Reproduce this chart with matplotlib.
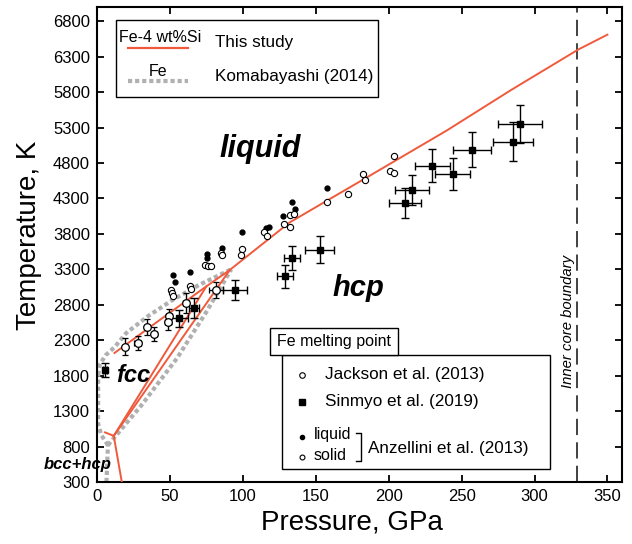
import numpy as np
import matplotlib
matplotlib.use("Agg")
import matplotlib.pyplot as plt
from matplotlib.lines import Line2D
from matplotlib.patches import Rectangle

plt.rcParams['font.family'] = ['Liberation Sans', 'DejaVu Sans']

# --- phase boundaries, this study (Fe-4 wt%Si) ---
melt_P = [12, 40, 75, 91, 132, 187, 240, 284, 330, 350]
melt_T = [2120, 2540, 3060, 3290, 3960, 4620, 5260, 5830, 6400, 6610]
fcc_hcp_lo_P = [11.5, 75]
fcc_hcp_lo_T = [950, 3060]
fcc_hcp_hi_P = [11.5, 91]
fcc_hcp_hi_T = [950, 3290]
bcc_hcp_P = [11.5, 17]
bcc_hcp_T = [950, 300]
bcc_fcc_P = [5.5, 11.5]
bcc_fcc_T = [1000, 950]

# --- Komabayashi (2014), pure Fe ---
k_melt_P = [0.8, 2, 6, 12, 20, 35, 52, 70, 92]
k_melt_T = [1811, 1960, 2090, 2200, 2400, 2640, 2870, 3080, 3300]
k_fcc_hcp_P = [7.5, 30, 55, 75, 92]
k_fcc_hcp_T = [820, 1370, 2050, 2700, 3300]
k_bcc_hcp_P = [6.5, 7.5]
k_bcc_hcp_T = [300, 820]
k_bcc_fcc_P = [7.5, 3, 0.8, 0.8]
k_bcc_fcc_T = [820, 960, 1120, 1811]

# --- Jackson et al. (2013) ---
jack_P = [19.2, 27.9, 34.3, 39.4, 49.4, 48.5, 60.9, 81.7]
jack_T = [2211, 2259, 2485, 2386, 2635, 2550, 2824, 3012]
jack_Perr = [1.5, 2.5, 1.5, 1.5, 2, 2, 2, 5]
jack_Terr = [115, 100, 110, 100, 100, 110, 140, 110]

# --- Sinmyo et al. (2019) ---
sin_P = [5.5, 56.5, 66.6, 94.7, 129, 133.6, 152.6, 210.9, 216, 230, 244, 257.4, 285.3, 290.3]
sin_T = [1882, 2612, 2757, 3012, 3200, 3459, 3577, 4236, 4424, 4763, 4640, 4990, 5102, 5347]
sin_Perr = [1.5, 5.7, 3.4, 8, 5.7, 5.7, 10, 11, 11.4, 12, 12, 13, 14, 15]
sin_Terr = [100, 120, 140, 140, 165, 165, 190, 212, 212, 235, 226, 250, 270, 270]

# --- Anzellini et al. (2013) ---
anz_liq_P = [52.4, 53.5, 63.8, 75.3, 75.7, 85.6, 99.3, 115.8, 117.6, 127.4, 133.6, 135.9, 158]
anz_liq_T = [3224, 3115, 3260, 3518, 3460, 3601, 3822, 3884, 3898, 4048, 4246, 4153, 4443]
anz_sol_P = [50.6, 51.5, 52.4, 63.8, 64.3, 74.1, 76.4, 78, 85.1, 86, 99.3, 98.8, 114.8,
             116.5, 128.5, 132.5, 135.4, 132.5, 157.6, 172, 182.4, 184, 200.6, 203.8, 203.8]
anz_sol_T = [3012, 2965, 2917, 3059, 3021, 3365, 3351, 3351, 3530, 3497, 3587, 3497, 3822,
             3775, 3940, 4071, 4085, 3898, 4246, 4369, 4646, 4556, 4683, 4660, 4905]

icb_P = 329
red = '#f05a3c'
grey = '#b0b0b0'

fig = plt.figure(figsize=(6.32, 5.44), dpi=100)
ax = fig.add_axes([97/632, 1-482/544, 525/632, 475/544])

# Komabayashi dotted grey
kw_grey = dict(color=grey, lw=3, ls=(0, (1, 0.7)), solid_capstyle='butt', zorder=2)
for P, T in [(k_melt_P, k_melt_T), (k_fcc_hcp_P, k_fcc_hcp_T),
             (k_bcc_hcp_P, k_bcc_hcp_T), (k_bcc_fcc_P, k_bcc_fcc_T)]:
    ax.plot(P, T, **kw_grey)

# this study, red
for P, T in [(melt_P, melt_T), (fcc_hcp_lo_P, fcc_hcp_lo_T), (fcc_hcp_hi_P, fcc_hcp_hi_T),
             (bcc_hcp_P, bcc_hcp_T), (bcc_fcc_P, bcc_fcc_T)]:
    ax.plot(P, T, color=red, lw=1.4, zorder=3)

ax.axvline(icb_P, color='#333333', lw=1.3, ls=(0, (9, 4)), zorder=1)

# data
ax.errorbar(sin_P, sin_T, xerr=sin_Perr, yerr=sin_Terr, fmt='s', ms=4.5, mfc='black',
             mec='black', ecolor='black', elinewidth=1, capsize=3, capthick=1, zorder=5)
ax.errorbar(jack_P, jack_T, xerr=jack_Perr, yerr=jack_Terr, fmt='o', ms=5.5, mfc='white',
             mec='black', mew=0.9, ecolor='black', elinewidth=1, capsize=2.5, capthick=1, zorder=6)
ax.plot(anz_liq_P, anz_liq_T, 'o', ms=3.5, color='black', zorder=6)
ax.plot(anz_sol_P, anz_sol_T, 'o', ms=4.5, mfc='white', mec='black', mew=0.8, zorder=6)

ax.set_xlim(0, 360)
ax.set_ylim(300, 7000)
ax.set_xticks(np.arange(0, 351, 50))
ax.set_yticks(np.arange(300, 6801, 500))
ax.tick_params(direction='in', top=True, right=True, length=5, width=1.3, labelsize=12, pad=5)
for s in ax.spines.values():
    s.set_linewidth(1.5)
ax.set_xlabel('Pressure, GPa', fontsize=20)
ax.set_ylabel('Temperature, K', fontsize=20)
ax.xaxis.set_label_coords((352 - 97) / 525, -0.058)
ax.yaxis.set_label_coords(-0.104, 0.52)

# phase labels
ax.text(112, 4990, 'liquid', fontsize=22, fontweight='bold', style='italic', ha='center', va='center')
ax.text(179, 3030, 'hcp', fontsize=21, fontweight='bold', style='italic', ha='center', va='center')
ax.text(25, 1800, 'fcc', fontsize=17, fontweight='bold', style='italic', ha='center', va='center')
ax.text(-13.4, 540, 'bcc+hcp', fontsize=12, fontweight='bold', style='italic', ha='center',
        va='center', clip_on=False)
ax.text(323, 2570, 'Inner core boundary', fontsize=10.7, style='italic', rotation=90,
        ha='center', va='center')


def fx(x):
    return x / 632


def fy(y):
    return 1 - y / 544


# legend 1 (lines)
fig.add_artist(Rectangle((fx(116), fy(97)), fx(378) - fx(116), fy(20) - fy(97),
                         transform=fig.transFigure, fill=True, fc='white', ec='black', lw=1, zorder=10))
fig.text(fx(160), fy(37), 'Fe-4 wt%Si', fontsize=11.5, ha='center', va='center', zorder=11)
fig.add_artist(Line2D([fx(128), fx(188)], [fy(48), fy(48)], color=red, lw=1.6,
                      transform=fig.transFigure, zorder=11))
fig.text(fx(215), fy(43), 'This study', fontsize=12.3, ha='left', va='center', zorder=11)
fig.text(fx(158), fy(71), 'Fe', fontsize=11.5, ha='center', va='center', zorder=11)
fig.add_artist(Line2D([fx(128), fx(188)], [fy(81), fy(81)], color=grey, lw=3,
                      ls=(0, (1, 0.7)), transform=fig.transFigure, zorder=11))
fig.text(fx(215), fy(77), 'Komabayashi (2014)', fontsize=12.3, ha='left', va='center', zorder=11)

# legend 2 (data)
fig.add_artist(Rectangle((fx(282), fy(469)), fx(550) - fx(282), fy(355) - fy(469),
                         transform=fig.transFigure, fc='white', ec='black', lw=1, zorder=10))
fig.add_artist(Rectangle((fx(270), fy(355)), fx(398) - fx(270), fy(328) - fy(355),
                         transform=fig.transFigure, fc='white', ec='black', lw=1, zorder=10))
fig.text(fx(334), fy(341.5), 'Fe melting point', fontsize=11.5, ha='center', va='center', zorder=11)
fig.add_artist(Line2D([fx(301.7)], [fy(375)], marker='o', ms=4, mfc='white', mec='black',
                      mew=0.8, transform=fig.transFigure, zorder=11))
fig.text(fx(325), fy(375), 'Jackson et al. (2013)', fontsize=12.3, ha='left', va='center', zorder=11)
fig.add_artist(Line2D([fx(301.7)], [fy(401.7)], marker='s', ms=4, color='black',
                      transform=fig.transFigure, zorder=11))
fig.text(fx(325), fy(401.7), 'Sinmyo et al. (2019)', fontsize=12.3, ha='left', va='center', zorder=11)
fig.add_artist(Line2D([fx(301.7)], [fy(436.7)], marker='o', ms=3, color='black',
                      transform=fig.transFigure, zorder=11))
fig.text(fx(314), fy(435), 'liquid', fontsize=11.5, ha='left', va='center', zorder=11)
fig.add_artist(Line2D([fx(301.7)], [fy(456.7)], marker='o', ms=3.5, mfc='white', mec='black',
                      mew=0.8, transform=fig.transFigure, zorder=11))
fig.text(fx(314), fy(456), 'solid', fontsize=11.5, ha='left', va='center', zorder=11)
fig.add_artist(Line2D([fx(356), fx(360.5), fx(360.5), fx(356)], [fy(433), fy(433), fy(461), fy(461)],
                      color='black', lw=1, transform=fig.transFigure, zorder=11))
fig.text(fx(368), fy(448), 'Anzellini et al. (2013)', fontsize=12.3, ha='left', va='center', zorder=11)

fig.savefig('out.png', dpi=100)
